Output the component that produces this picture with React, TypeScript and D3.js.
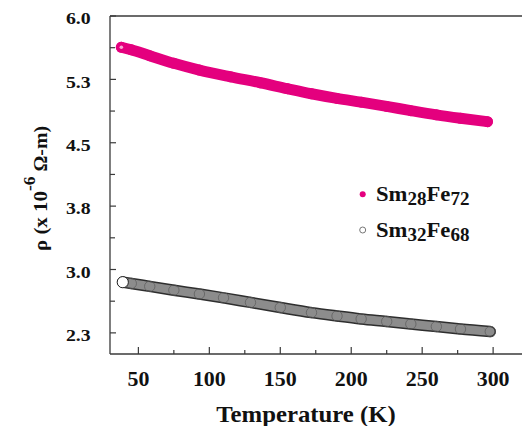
import React from 'react';
import * as d3 from 'd3';

const W = 522;
const H = 426;

// Sm28Fe72 (magenta, filled)
const tempA = [38, 45, 58, 75, 93, 115, 136, 155, 172, 190, 207, 225, 242, 260, 277, 296];
const rhoA = [5.63, 5.6, 5.53, 5.44, 5.36, 5.28, 5.21, 5.14, 5.08, 5.025, 4.98, 4.93, 4.88, 4.83, 4.79, 4.75];

// Sm32Fe68 (open circles)
const tempB = [39, 45, 58, 75, 93, 110, 129, 150, 172, 190, 207, 225, 242, 260, 277, 298];
const rhoB = [2.85, 2.835, 2.8, 2.755, 2.71, 2.665, 2.61, 2.55, 2.49, 2.45, 2.415, 2.385, 2.355, 2.325, 2.295, 2.265];

const xTickValues = [50, 100, 150, 200, 250, 300];
const xMinorTicks = [75, 125, 175, 225, 275];
const yTickValues = [6.0, 5.25, 4.5, 3.75, 3.0, 2.25];
const yTickLabels = ['6.0', '5.3', '4.5', '3.8', '3.0', '2.3'];
const yMinorTicks = [5.625, 4.875, 4.125, 3.375, 2.625];

const MAGENTA = '#E4007E';
const AXIS = '#3a3a3a';
const FONT = 'Liberation Serif';

export default function App() {
  const x = d3.scaleLinear().domain([30, 320]).range([110, 521.5]);
  const y = d3.scaleLinear().domain([2.0, 6.0]).range([354, 16]);

  const ptsA = tempA.map((t, i) => [t, rhoA[i]] as [number, number]);
  const ptsB = tempB.map((t, i) => [t, rhoB[i]] as [number, number]);
  const line = d3
    .line<[number, number]>()
    .x((d) => x(d[0]))
    .y((d) => y(d[1]))
    .curve(d3.curveMonotoneX);

  const x0 = x(30);
  const yTop = y(6.0);
  const yBot = y(2.0);
  const ts = { fontFamily: FONT, fontWeight: 700 } as React.CSSProperties;

  return (
    <svg
      width={W}
      height={H}
      style={{ position: 'absolute', left: 0, top: 0, background: '#fff', fontFamily: FONT, fontWeight: 700 }}
    >
      <rect width={W} height={H} fill="#fff" />
      {/* frame */}
      <line x1={x0} x2={W} y1={yTop} y2={yTop} stroke={AXIS} strokeWidth={1.3} />
      <line x1={x0} x2={W} y1={yBot} y2={yBot} stroke={AXIS} strokeWidth={1.3} />
      <line x1={x0} x2={x0} y1={yTop} y2={yBot} stroke={AXIS} strokeWidth={1.3} />

      {/* y ticks */}
      {yTickValues.map((v) => (
        <line key={'ym' + v} x1={x0} x2={x0 + 6} y1={y(v)} y2={y(v)} stroke={AXIS} strokeWidth={1.2} />
      ))}
      {yMinorTicks.map((v) => (
        <line key={'yn' + v} x1={x0} x2={x0 + 5} y1={y(v)} y2={y(v)} stroke={AXIS} strokeWidth={1.2} />
      ))}
      {yTickLabels.map((lab, i) => (
        <text
          key={'yl' + lab}
          transform={`translate(90.7,${y(yTickValues[i]) + 8.3}) scale(1.2,1)`}
          textAnchor="end"
          fontSize={16.5}
          fill="#111"
          style={ts}
        >
          {lab}
        </text>
      ))}

      {/* x ticks */}
      {xTickValues.map((v) => (
        <line key={'xm' + v} x1={x(v)} x2={x(v)} y1={yBot} y2={yBot - 7} stroke={AXIS} strokeWidth={1.2} />
      ))}
      {xMinorTicks.map((v) => (
        <line key={'xn' + v} x1={x(v)} x2={x(v)} y1={yBot} y2={yBot - 4} stroke={AXIS} strokeWidth={1.2} />
      ))}
      {xTickValues.map((v) => (
        <text
          key={'xl' + v}
          transform={`translate(${x(v)},386.3) scale(1.07,1)`}
          textAnchor="middle"
          fontSize={20.5}
          fill="#111"
          style={ts}
        >
          {v}
        </text>
      ))}

      {/* axis titles */}
      <text transform="translate(306,421.5) scale(1.1,1)" textAnchor="middle" fontSize={22.5} fill="#111" style={ts}>
        Temperature (K)
      </text>
      <text transform="translate(47,188.5) rotate(-90) scale(1.1,1)" textAnchor="middle" fontSize={19} fill="#111" style={ts}>
        ρ (x 10
        <tspan dy={-12} fontSize={16}>-6</tspan>
        <tspan dy={12} fontSize={18}> Ω-m)</tspan>
      </text>

      {/* Sm28Fe72 series */}
      <path d={line(ptsA) || ''} fill="none" stroke={MAGENTA} strokeWidth={11} strokeLinecap="round" />
      {ptsA.map((d, i) => (
        <circle key={'a' + i} cx={x(d[0])} cy={y(d[1])} r={5.5} fill={MAGENTA} />
      ))}
      <circle cx={x(ptsA[0][0])} cy={y(ptsA[0][1])} r={1.8} fill="#f6a8d2" />

      {/* Sm32Fe68 series */}
      <path d={line(ptsB) || ''} fill="none" stroke="#2e2e2e" strokeWidth={11.5} strokeLinecap="round" />
      <path d={line(ptsB) || ''} fill="none" stroke="#8c8c8c" strokeWidth={8.5} strokeLinecap="round" />
      {ptsB
        .slice()
        .reverse()
        .map((d, i) => (
          <circle key={'b' + i} cx={x(d[0])} cy={y(d[1])} r={5.2} fill="none" stroke="#5a5a5a" strokeWidth={0.7} />
        ))}
      <circle cx={x(ptsB[0][0])} cy={y(ptsB[0][1])} r={5.6} fill="#fff" stroke="#222" strokeWidth={1} />

      {/* legend */}
      <circle cx={362.7} cy={194.3} r={3} fill={MAGENTA} />
      <text transform="translate(376,201) scale(1.03,1)" fontSize={22} fill="#111" style={ts}>
        Sm<tspan dy={4} fontSize={18.5}>28</tspan>
        <tspan dy={-4}>Fe</tspan>
        <tspan dy={4} fontSize={18.5}>72</tspan>
      </text>
      <circle cx={362.7} cy={230} r={3} fill="#fff" stroke="#777" strokeWidth={1} />
      <text transform="translate(376,236.7) scale(1.03,1)" fontSize={22} fill="#111" style={ts}>
        Sm<tspan dy={4} fontSize={18.5}>32</tspan>
        <tspan dy={-4}>Fe</tspan>
        <tspan dy={4} fontSize={18.5}>68</tspan>
      </text>
    </svg>
  );
}
